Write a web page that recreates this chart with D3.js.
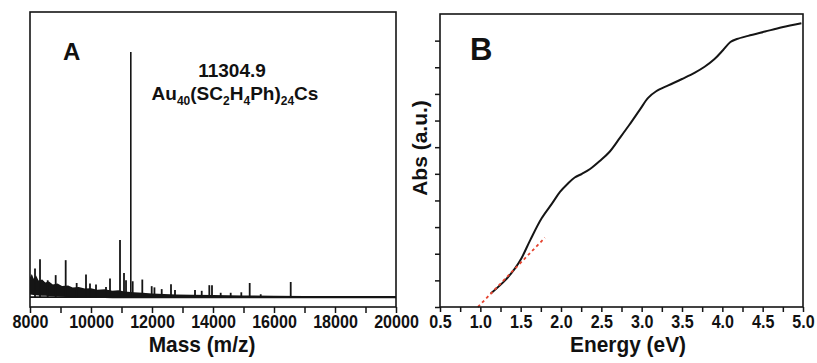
<!DOCTYPE html>
<html>
<head>
<meta charset="utf-8">
<script src="https://cdn.jsdelivr.net/npm/d3@7/dist/d3.min.js"></script>
<style>
	body { margin: 0; background: #fff; }
	text { font-family: "Liberation Sans", Arial, sans-serif; font-weight: bold; fill: #111; }
</style>
</head>
<body>
<svg id="chart" width="817" height="363"></svg>
<script>
// ---- Panel A : mass spectrum ----
const MASS_TICKS = [8000, 10000, 12000, 14000, 16000, 18000, 20000];
const PEAK_MASS = [8164, 8328, 8580, 8842, 9170, 9530, 9836, 9967, 10164, 10492, 10623, 10951,
	11082, 11148, 11305, 11367, 11682, 11990, 12080, 12318, 12623, 12754, 13410, 13630, 13879,
	13967, 14252, 14580, 14928, 15203, 15564, 16548];
const PEAK_INT = [11.7, 15.5, 6.9, 9.0, 15.1, 5.8, 9.3, 5.6, 5.2, 4.2, 7.6, 23.3,
	9.9, 6.9, 100, 6.5, 7.2, 4.5, 4.0, 3.3, 5.3, 2.9, 2.9, 2.6, 4.9,
	4.9, 1.8, 1.8, 2.0, 5.8, 1.2, 6.2];
// dense noise band at low mass (upper / lower edge)
const NOISE_MASS = [8000, 8060, 8120, 8200, 8280, 8400, 8500, 8620, 8750, 8900, 9050, 9250, 9400,
	9600, 9800, 10000, 10200, 10450, 10700, 10900, 11100, 11400, 11700, 12000, 12400, 12800,
	13300, 14000, 15000, 16000, 17000, 20000];
const NOISE_TOP = [8.0, 9.5, 7.5, 8.8, 6.8, 7.2, 6.0, 6.4, 5.2, 5.6, 4.6, 4.8, 4.0,
	4.2, 3.5, 3.6, 3.0, 3.2, 2.6, 2.8, 2.3, 2.0, 1.8, 1.5, 1.3, 1.1,
	1.0, 0.9, 0.7, 0.6, 0.5, 0.5];
const NOISE_BOTTOM = [1.5, 1.4, 1.3, 1.2, 1.1, 1.0, 1.0, 0.9, 0.8, 0.7, 0.6, 0.5, 0.4,
	0.3, 0.2, 0.2, 0.1, 0.1, 0, 0, 0, 0, 0, 0, 0, 0,
	0, 0, 0, 0, 0, 0];

// ---- Panel B : UV-vis absorption ----
const ENERGY = [1.13, 1.31, 1.43, 1.51, 1.62, 1.76, 1.89, 1.99, 2.08, 2.17, 2.26, 2.36, 2.48,
	2.60, 2.73, 2.85, 2.98, 3.08, 3.18, 3.33, 3.50, 3.66, 3.78, 3.90, 4.01, 4.10, 4.18,
	4.32, 4.53, 4.74, 4.98];
const ABS = [0.51, 1.01, 1.45, 1.83, 2.52, 3.33, 3.89, 4.33, 4.62, 4.86, 5.00, 5.18, 5.48,
	5.82, 6.35, 6.85, 7.42, 7.85, 8.10, 8.32, 8.56, 8.80, 9.02, 9.30, 9.65, 9.95, 10.06,
	10.18, 10.34, 10.50, 10.65];
const ONSET_E = [0.97, 1.80];
const ONSET_A = [0, 2.6];
const ENERGY_TICKS = [0.5, 1.0, 1.5, 2.0, 2.5, 3.0, 3.5, 4.0, 4.5, 5.0];

const svg = d3.select('#chart');
const INK = '#151515';

function styleAxis(g, size, sx) {
	g.select('.domain').remove();
	g.selectAll('line').attr('stroke', INK).attr('stroke-width', 1.5);
	// minor ticks carry no label
	g.selectAll('.tick text').filter(function() { return this.textContent === ''; }).remove();
	g.selectAll('text')
		.style('font-size', size + 'px')
		.attr('fill', INK)
		.attr('transform', `scale(${sx},1)`);
}

// ================= Panel A =================
const xA = d3.scaleLinear().domain([8000, 20000]).range([30, 396]);
const yA = d3.scaleLinear().domain([-4, 100]).range([307, 52]);

const gA = svg.append('g');

const noise = NOISE_MASS.map((m, i) => ({m: m, top: NOISE_TOP[i], bot: NOISE_BOTTOM[i]}));
gA.append('path')
	.datum(noise)
	.attr('fill', INK)
	.attr('d', d3.area().x(d => xA(d.m)).y0(d => yA(d.bot) + 1).y1(d => yA(d.top)));

// baseline
gA.append('line')
	.attr('x1', xA(8000)).attr('x2', xA(20000))
	.attr('y1', yA(0)).attr('y2', yA(0))
	.attr('stroke', INK).attr('stroke-width', 1.8);

// peaks
gA.append('g')
	.selectAll('line')
	.data(PEAK_MASS.map((m, i) => ({m: m, v: PEAK_INT[i]})))
	.enter().append('line')
	.attr('x1', d => xA(d.m)).attr('x2', d => xA(d.m))
	.attr('y1', yA(0)).attr('y2', d => yA(d.v))
	.attr('stroke', INK)
	.attr('stroke-width', d => d.v > 50 ? 1.6 : 1.8);

// frame
gA.append('rect')
	.attr('x', 30).attr('y', 12).attr('width', 366).attr('height', 295)
	.attr('fill', 'none').attr('stroke', INK).attr('stroke-width', 1.6);

const axA = gA.append('g')
	.attr('transform', 'translate(0,307)')
	.call(d3.axisBottom(xA)
		.tickValues(d3.range(8000, 20001, 1000))
		.tickSize(6).tickPadding(2)
		.tickFormat(d => MASS_TICKS.includes(d) ? d : ''));
styleAxis(axA, 18.5, 0.87);

gA.append('text')
	.attr('transform', 'translate(202,352) scale(0.95,1)')
	.attr('text-anchor', 'middle')
	.style('font-size', '22px')
	.text('Mass (m/z)');

gA.append('text')
	.attr('x', 63).attr('y', 60)
	.style('font-size', '24px')
	.text('A');

gA.append('text')
	.attr('x', 232).attr('y', 77)
	.attr('text-anchor', 'middle')
	.style('font-size', '19px')
	.text('11304.9');

const formula = gA.append('text')
	.attr('x', 235).attr('y', 100)
	.attr('text-anchor', 'middle')
	.style('font-size', '19px');
[['Au', 0], ['40', 1], ['(SC', 0], ['2', 1], ['H', 0], ['4', 1], ['Ph)', 0], ['24', 1], ['Cs', 0]]
	.forEach(([t, sub], i, arr) => {
		const prevSub = i > 0 && arr[i - 1][1];
		formula.append('tspan')
			.attr('dy', sub ? 5 : (prevSub ? -5 : 0))
			.style('font-size', sub ? '12px' : '19px')
			.text(t);
	});

// ================= Panel B =================
const xB = d3.scaleLinear().domain([0.5, 5.0]).range([440, 803]);
const yB = d3.scaleLinear().domain([0, 11]).range([307, 14]);

const gB = svg.append('g');

gB.append('path')
	.datum(ENERGY.map((e, i) => [e, ABS[i]]))
	.attr('fill', 'none')
	.attr('stroke', INK)
	.attr('stroke-width', 2)
	.attr('d', d3.line().x(d => xB(d[0])).y(d => yB(d[1])).curve(d3.curveCatmullRom));

gB.append('path')
	.datum(ONSET_E.map((e, i) => [e, ONSET_A[i]]))
	.attr('fill', 'none')
	.attr('stroke', '#e5432f')
	.attr('stroke-width', 1.8)
	.attr('stroke-dasharray', '3,3')
	.attr('d', d3.line().x(d => xB(d[0])).y(d => yB(d[1])));

gB.append('rect')
	.attr('x', 440).attr('y', 14).attr('width', 363).attr('height', 293)
	.attr('fill', 'none').attr('stroke', INK).attr('stroke-width', 1.6);

const axBx = gB.append('g')
	.attr('transform', 'translate(0,307)')
	.call(d3.axisBottom(xB)
		.tickValues(d3.range(0.5, 5.01, 0.25))
		.tickSize(5).tickPadding(3)
		.tickFormat(d => ENERGY_TICKS.some(t => Math.abs(t - d) < 1e-6) ? d3.format('.1f')(d) : ''));
styleAxis(axBx, 18.5, 0.87);

const axBy = gB.append('g')
	.attr('transform', 'translate(440,0)')
	.call(d3.axisLeft(yB).tickValues(d3.range(0, 11)).tickSize(5).tickFormat(''));
styleAxis(axBy, 18, 1);

gB.append('text')
	.attr('transform', 'translate(628,352) scale(0.95,1)')
	.attr('text-anchor', 'middle')
	.style('font-size', '22px')
	.text('Energy (eV)');

gB.append('text')
	.attr('transform', 'translate(427,148) rotate(-90)')
	.attr('text-anchor', 'middle')
	.style('font-size', '21px')
	.text('Abs (a.u.)');

gB.append('text')
	.attr('x', 470).attr('y', 60)
	.style('font-size', '31px')
	.text('B');
</script>
</body>
</html>
